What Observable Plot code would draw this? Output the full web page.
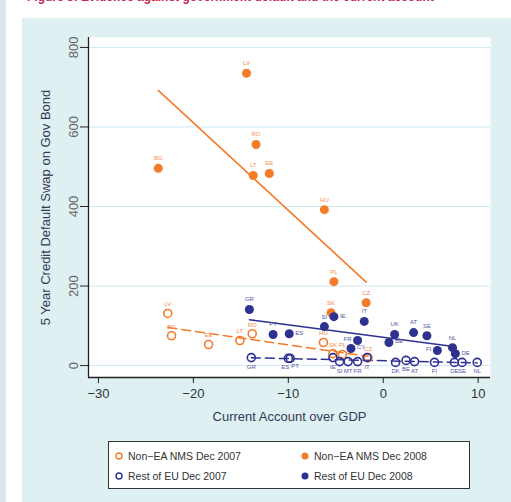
<!DOCTYPE html>
<html><head><meta charset="utf-8">
<script src="https://cdn.jsdelivr.net/npm/d3@7"></script>
<script src="https://cdn.jsdelivr.net/npm/@observablehq/plot@0.6"></script>
<style>
body{margin:0;width:511px;height:502px;position:relative;overflow:hidden;background:#fff;font-family:"Liberation Sans",Arial,sans-serif;}
#strip{position:absolute;left:0;top:0;width:6px;height:502px;background:#dbe5ef;}
#title{position:absolute;left:27px;top:-10px;font-size:12px;font-weight:bold;color:#c8234f;white-space:nowrap;}
#panel{position:absolute;left:22px;top:18px;width:489px;height:484px;background:#dff0f3;}
#chart{position:absolute;left:0;top:0;}
#legend{position:absolute;left:86px;top:423px;width:362px;height:48px;background:#fff;border:1.5px solid #333;box-sizing:border-box;font-size:10.5px;color:#333;}
.item{position:absolute;white-space:nowrap;line-height:12px;}
.item svg{position:absolute;left:0;top:0;}
.item span{position:absolute;left:15px;top:0;}
</style>
</head><body>
<div id="strip"></div>
<div id="title">Figure 3: Evidence against government default and the current account</div>
<div id="panel">
  <div id="chart"></div>
  <div id="legend"></div>
</div>
<script>
// ---- data ----
const nms07Labels = ["LV","BG","EE","LT","RO","HU","SK","PL","CZ"];
const nms07X = [-22.7,-22.3,-18.4,-15.1,-13.8,-6.3,-5.3,-4.3,-1.6];
const nms07Y = [131,75,53,63,80,58,30,28,20];

const nms08Labels = ["LV","RO","BG","LT","EE","HU","PL","SK","CZ"];
const nms08X = [-14.4,-13.4,-23.7,-13.7,-12.0,-6.2,-5.2,-5.5,-1.8];
const nms08Y = [735,556,496,478,483,392,211,133,158];

const eu07Labels = ["GR","ES","PT","IE","SI","MT","FR","IT","DK","BE","AT","FI","DE","SE","NL"];
const eu07X = [-13.9,-10.0,-9.8,-5.3,-4.6,-3.7,-2.7,-1.7,1.3,2.4,3.3,5.4,7.5,8.3,9.9];
const eu07Y = [20,18,18,20,10,10,10,20,8,13,10,8,8,8,8];

const eu08Labels = ["GR","PT","ES","SI","IE","IT","FR","CY","UK","BE","AT","SE","FI","NL","DE"];
const eu08X = [-14.1,-11.6,-9.9,-6.2,-5.2,-2.0,-2.7,-3.4,1.2,0.6,3.2,4.6,5.7,7.3,7.6];
const eu08Y = [141,78,80,98,123,111,63,43,78,58,83,75,38,45,30];

const seriesNames = ["Non\u2212EA NMS Dec 2007","Non\u2212EA NMS Dec 2008","Rest of EU Dec 2007","Rest of EU Dec 2008"];
const xTicks = [-30,-20,-10,0,10];
const yTicks = [0,200,400,600,800];
const xLabel = "Current Account over GDP";
const yLabel = "5 Year Credit Default Swap on Gov Bond";

// ---- build ----
const table = (labels, xs, ys) => labels.map((l,i)=>({label:l, x:xs[i], y:ys[i]}));
const nms07 = table(nms07Labels, nms07X, nms07Y);
const nms08 = table(nms08Labels, nms08X, nms08Y);
const eu07 = table(eu07Labels, eu07X, eu07Y);
const eu08 = table(eu08Labels, eu08X, eu08Y);

const orange = "#f47b2a", navy = "#2e3190";
const orangeLbl = "#f38a4c", navyLbl = "#5557a6";
const xDomain = [-31.05, 11.3];
const yDomain = [-30, 825];
const fmt = d => d < 0 ? "\u2212" + Math.abs(d) : String(d);

// label placement groups (styling only)
const leftOf = new Set(["ES"]);
const rightOf = new Set(["PT"]);
const eu08Right = new Set(["IE","ES","CY","BE","DE"]);
const eu08Left = new Set(["FR","FI"]);

const chart = Plot.plot({
  width: 489, height: 418,
  marginLeft: 66, marginRight: 21, marginTop: 19, marginBottom: 59,
  x: {domain: xDomain},
  y: {domain: yDomain},
  style: {fontFamily: "'Liberation Sans', Arial, sans-serif", background: "transparent", color: "#333", overflow: "visible"},
  marks: [
    Plot.frame({fill: "white", stroke: "none"}),
    Plot.gridY(yTicks, {stroke: "#cfe9f1", strokeOpacity: 1, strokeWidth: 1}),
    Plot.ruleX([xDomain[0]], {stroke: "#222", strokeWidth: 1.3}),
    Plot.ruleY([yDomain[0]], {stroke: "#222", strokeWidth: 1.3}),
    Plot.axisX(xTicks, {tickSize: 6, tickPadding: 5, fontSize: 13, label: null, tickFormat: fmt, stroke: "#222", fill: "#333"}),
    Plot.axisY(yTicks, {tickSize: 8, tickPadding: 3, tickRotate: -90, fontSize: 13, label: null, tickFormat: fmt, stroke: "#222", fill: "#666"}),
    Plot.text([xLabel], {frameAnchor: "bottom", dy: 43, fontSize: 13, fill: "#333a55"}),
    Plot.text([yLabel], {frameAnchor: "left", textAnchor: "middle", rotate: -90, dx: -43, fontSize: 13, fill: "#333a55"}),
    Plot.linearRegressionY(nms08, {x: "x", y: "y", stroke: orange, strokeWidth: 1.6, ci: 0}),
    Plot.linearRegressionY(eu08, {x: "x", y: "y", stroke: navy, strokeWidth: 1.6, ci: 0}),
    Plot.linearRegressionY(nms07, {x: "x", y: "y", stroke: orange, strokeWidth: 1.5, strokeDasharray: "9,5", ci: 0}),
    Plot.linearRegressionY(eu07, {x: "x", y: "y", stroke: navy, strokeWidth: 1.5, strokeDasharray: "9,5", ci: 0}),
    Plot.dot(nms07, {x: "x", y: "y", r: 4, stroke: orange, strokeWidth: 1.6, fill: "none"}),
    Plot.dot(eu07, {x: "x", y: "y", r: 4, stroke: navy, strokeWidth: 1.6, fill: "none"}),
    Plot.dot(nms08, {x: "x", y: "y", r: 4.5, fill: orange, stroke: "none"}),
    Plot.dot(eu08, {x: "x", y: "y", r: 4.5, fill: navy, stroke: "none"}),
    Plot.text(nms07, {x: "x", y: "y", text: "label", dy: -9, fontSize: 6, fill: orangeLbl}),
    Plot.text(nms08, {x: "x", y: "y", text: "label", dy: -10, fontSize: 6, fill: orangeLbl}),
    Plot.text(eu07.filter(d => !leftOf.has(d.label) && !rightOf.has(d.label)), {x: "x", y: "y", text: "label", dy: 9, fontSize: 6, fill: navyLbl}),
    Plot.text(eu07.filter(d => leftOf.has(d.label)), {x: "x", y: "y", text: "label", dy: 9, dx: 1, textAnchor: "end", fontSize: 6, fill: navyLbl}),
    Plot.text(eu07.filter(d => rightOf.has(d.label)), {x: "x", y: "y", text: "label", dy: 8, dx: 1, textAnchor: "start", fontSize: 6, fill: navyLbl}),
    Plot.text(eu08.filter(d => !eu08Right.has(d.label) && !eu08Left.has(d.label)), {x: "x", y: "y", text: "label", dy: -10, fontSize: 6, fill: navyLbl}),
    Plot.text(eu08.filter(d => eu08Right.has(d.label)), {x: "x", y: "y", text: "label", dx: 6, dy: -1, textAnchor: "start", fontSize: 6, fill: navyLbl}),
    Plot.text(eu08.filter(d => eu08Left.has(d.label)), {x: "x", y: "y", text: "label", dx: -6, dy: -1, textAnchor: "end", fontSize: 6, fill: navyLbl})
  ]
});
document.getElementById("chart").appendChild(chart);

// ---- legend ----
const legend = document.getElementById("legend");
const legendSpec = [
  {name: seriesNames[0], color: orange, filled: false, left: 4, top: 8},
  {name: seriesNames[1], color: orange, filled: true, left: 190, top: 8},
  {name: seriesNames[2], color: navy, filled: false, left: 4, top: 28},
  {name: seriesNames[3], color: navy, filled: true, left: 190, top: 28}
];
for (const s of legendSpec) {
  const d = document.createElement("div");
  d.className = "item";
  d.style.left = s.left + "px";
  d.style.top = s.top + "px";
  const circ = s.filled
    ? `<circle cx="6" cy="6" r="3.5" fill="${s.color}"/>`
    : `<circle cx="6" cy="6" r="3" fill="none" stroke="${s.color}" stroke-width="1.4"/>`;
  d.innerHTML = `<svg width="12" height="12">${circ}</svg><span>${s.name}</span>`;
  legend.appendChild(d);
}
</script>
</body></html>
